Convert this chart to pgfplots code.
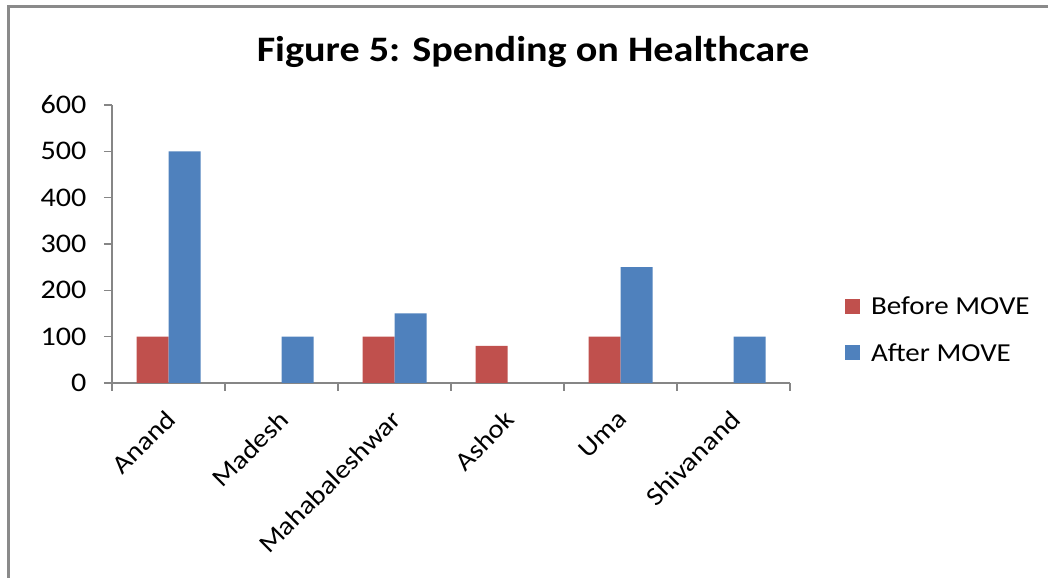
\documentclass[border=0pt]{standalone}
\usepackage{pgfplots}
\pgfplotsset{compat=1.18}
\usepackage{fontspec}
\setmainfont{Carlito}[FakeStretch=1.12]
\definecolor{redbar}{HTML}{C0504D}
\definecolor{bluebar}{HTML}{4F81BD}
\definecolor{axgray}{HTML}{868686}
\definecolor{framegray}{HTML}{8A8A8A}
\begin{document}
\begin{tikzpicture}[x=1bp,y=1bp]
\path[use as bounding box] (0,0) rectangle (1048,578);
\draw[framegray, line width=3bp] (8.5,0) -- (8.5,571.5) -- (1048,571.5);
\node[font=\fontsize{36}{42}\selectfont\bfseries, anchor=center] at (533,526) {Figure 5: Spending on Healthcare};
\begin{axis}[
  at={(112bp,195bp)}, anchor=south west,
  scale only axis, width=678bp, height=278bp,
  xmin=-0.5, xmax=5.5, ymin=0, ymax=600,
  axis lines*=left,
  axis line style={axgray, line width=1.5bp},
  every tick/.style={axgray, line width=1.5bp},
  ytick={0,100,...,600},
  tick align=outside,
  major tick length=8bp,
  xtick={-0.5,0.5,1.5,2.5,3.5,4.5,5.5},
  xticklabels={Anand,Madesh,Mahabaleshwar,Ashok,Uma,Shivanand},
  x tick label as interval,
  x tick label style={rotate=45, anchor=north east, font=\fontsize{26}{30}\selectfont, xshift=-12bp, yshift=-6bp},
  y tick label style={font=\fontsize{27}{30}\selectfont, xshift=-14bp},
  /pgf/number format/assume math mode=true,
  ybar=0pt, bar width=32bp,
  legend style={at={(1.081,0.317)}, anchor=north west, draw=none, fill=none,
    font=\fontsize{26}{30}\selectfont, row sep=23bp, inner sep=0pt,
    /tikz/every odd column/.append style={column sep=9bp}},
  legend cell align=left,
  legend image code/.code={\fill[#1] (0bp,-7.5bp) rectangle (15bp,7.5bp);},
]
\addplot[fill=redbar, draw=none] coordinates {(0,100) (2,100) (3,80) (4,100)};
\addplot[fill=bluebar, draw=none] coordinates {(0,500) (1,100) (2,150) (4,250) (5,100)};
\legend{Before MOVE, After MOVE}
\end{axis}
\end{tikzpicture}
\end{document}
